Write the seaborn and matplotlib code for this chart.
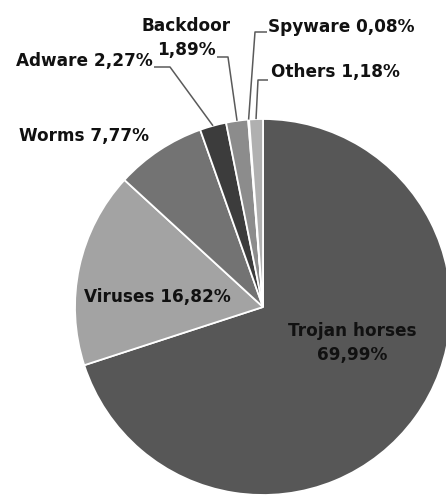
import numpy as np
import matplotlib
matplotlib.use("Agg")
import matplotlib.pyplot as plt
import seaborn as sns

categories = ["Trojan horses", "Viruses", "Worms", "Adware", "Backdoor", "Spyware", "Others"]
values = [69.99, 16.82, 7.77, 2.27, 1.89, 0.08, 1.18]
value_labels = ["69,99%", "16,82%", "7,77%", "2,27%", "1,89%", "0,08%", "1,18%"]
colors = ["#575757", "#a3a3a3", "#737373", "#3c3c3c", "#8c8c8c", "#d8d8d8", "#b0b0b0"]

sns.set_theme(style="white")
plt.rcParams['font.family'] = ['DejaVu Sans']

W, H = 446, 501
fig = plt.figure(figsize=(W / 100, H / 100), dpi=100)
CX, CY, R = 263, 307, 188
ax = fig.add_axes([(CX - R) / W, (H - CY - R) / H, 2 * R / W, 2 * R / H])

wedges, _ = ax.pie(values, colors=colors, startangle=90, counterclock=False,
                   radius=1.0, wedgeprops=dict(edgecolor="white", linewidth=1.3))
for w in wedges:
    w.set_clip_on(False)
ax.set_xlim(-1, 1)
ax.set_ylim(-1, 1)
ax.set_aspect("equal")
ax.axis("off")


def P(px, py):
    return (px - CX) / R, (CY - py) / R


fkw = dict(fontsize=12.2, fontweight="bold", color="#111111")

# inner labels
ax.text(*P(352, 343), f"{categories[0]}\n{value_labels[0]}", ha="center", va="center",
        linespacing=1.45, **fkw)
ax.text(*P(157, 297), f"{categories[1]} {value_labels[1]}", ha="center", va="center", **fkw)
ax.text(*P(84, 136), f"{categories[2]} {value_labels[2]}", ha="center", va="center", **fkw)

# outer labels with leader lines
ax.text(*P(153, 61), f"{categories[3]} {value_labels[3]}", ha="right", va="center", **fkw)
ax.text(*P(186, 38), f"{categories[4]}\n{value_labels[4]}", ha="center", va="center",
        linespacing=1.45, **fkw)
ax.text(*P(268, 27), f"{categories[5]} {value_labels[5]}", ha="left", va="center", **fkw)
ax.text(*P(271, 72), f"{categories[6]} {value_labels[6]}", ha="left", va="center", **fkw)

leaders = {3: [(154, 67), (170, 67)], 4: [(217, 57), (228, 57)],
           5: [(267, 32), (255, 32)], 6: [(268, 80), (258, 80)]}
for i, pts in leaders.items():
    w = wedges[i]
    mid = np.deg2rad((w.theta1 + w.theta2) / 2)
    xs = [P(*p)[0] for p in pts] + [np.cos(mid)]
    ys = [P(*p)[1] for p in pts] + [np.sin(mid)]
    ax.plot(xs, ys, color="#5a5a5a", lw=1.1, clip_on=False, solid_capstyle="butt")

fig.savefig("out.png", dpi=100, facecolor="white")
